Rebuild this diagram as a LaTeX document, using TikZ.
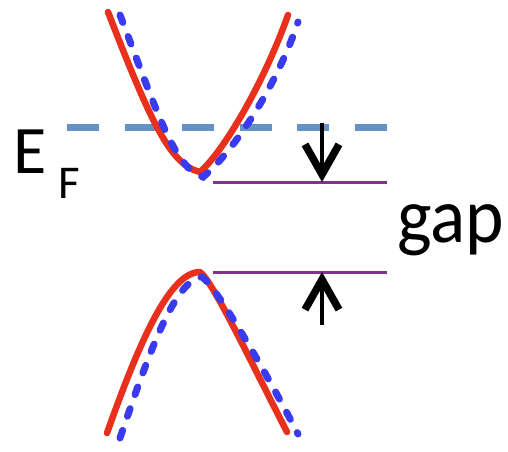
\documentclass[tikz,border=0pt]{standalone}
\usepackage{fontspec}
\setmainfont{Carlito}
\usetikzlibrary{arrows.meta}
\definecolor{bandred}{RGB}{232,48,28}
\definecolor{bandblue}{RGB}{58,58,238}
\definecolor{efblue}{RGB}{100,146,194}
\definecolor{gappurple}{RGB}{130,50,140}
\tikzset{
  redband/.style={draw=bandred, line width=6.5pt, line cap=round, line join=round},
  blueband/.style={draw=bandblue, line width=7pt, line cap=round, dash pattern=on 8pt off 15pt},
  efline/.style={draw=efblue, line width=7pt, dash pattern=on 32pt off 25.5pt},
  edgeline/.style={draw=gappurple, line width=3pt},
  gaparrow/.style={draw=black, line width=3.2pt, -{Straight Barb[length=30pt, width=34pt, line width=7.5pt]}},
  lbl/.style={inner sep=0pt, anchor=base west}
}
\begin{document}
\begin{tikzpicture}[x=1pt, y=-1pt]
\useasboundingbox[fill=white] (0,0) rectangle (508,451);
% Fermi level
\coordinate (efL) at (67,127);
\coordinate (efR) at (388,127);
\draw[efline] (efL) -- (efR);
% band edges
\coordinate (cbL) at (213,182);
\coordinate (cbR) at (387,182);
\coordinate (vbL) at (213,272);
\coordinate (vbR) at (387,272);
\draw[edgeline] (cbL) -- (cbR);
\draw[edgeline] (vbL) -- (vbR);
% red bands
\draw[redband] (108,12) .. controls (150,120) and (170,165) .. (200,172)
                        .. controls (225,150) and (265,80) .. (288,15);
\draw[redband] (107,433) .. controls (140,340) and (170,272) .. (200,272)
                         .. controls (212,280) and (250,360) .. (287,432);
% blue dashed bands
\draw[blueband] (120,15) .. controls (160,120) and (175,168) .. (203,177)
                         .. controls (235,150) and (277,85) .. (298,22);
\draw[blueband] (120,438) .. controls (150,350) and (175,280) .. (202,277)
                          .. controls (215,285) and (265,370) .. (298,434);
% arrows
\coordinate (dtop) at (322,123);
\coordinate (dbot) at (322,182);
\coordinate (ubot) at (322,325);
\coordinate (utop) at (322,272);
\draw[gaparrow] (dtop) -- (dbot);
\draw[gaparrow] (ubot) -- (utop);
% labels
\node[lbl, font=\fontsize{68}{68}\selectfont] (E) at (13,173) {E};
\node[lbl, font=\fontsize{47}{47}\selectfont] (Fsub) at (58,198) {F};
\node[lbl, font=\fontsize{78}{78}\selectfont, xscale=0.94] (gap) at (397,242) {gap};
\end{tikzpicture}
\end{document}
